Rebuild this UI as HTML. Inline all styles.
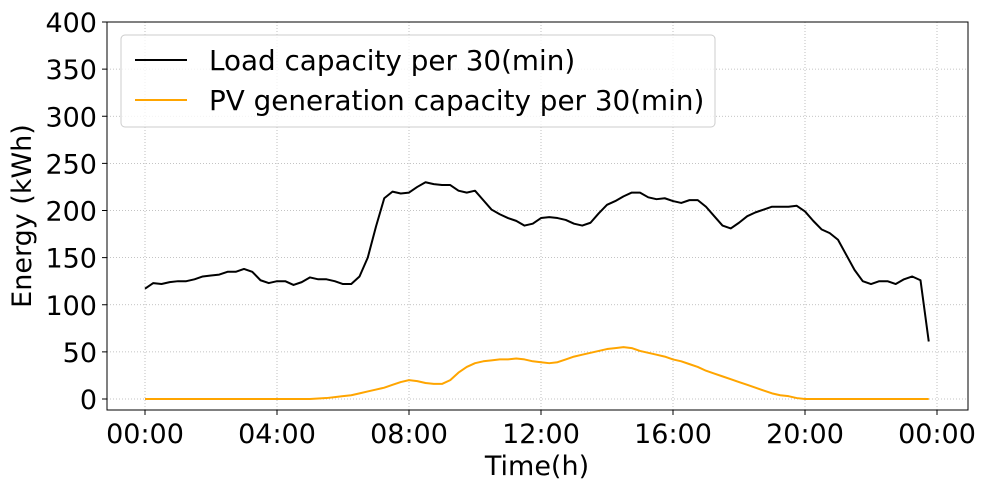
<!DOCTYPE html>
<html><head><meta charset="utf-8"><style>
body{margin:0;background:#fff}
svg text{font-family:"DejaVu Sans","Liberation Sans",sans-serif;fill:#000}
</style></head><body>
<svg id="chart" width="986" height="490" xmlns="http://www.w3.org/2000/svg">
<g id="grid"></g>
<g id="series"></g>
<rect x="107" y="22" width="861" height="388" fill="none" stroke="#000" stroke-width="1"/>
<g id="ticks"></g>
<text x="537" y="475" font-size="27" text-anchor="middle">Time(h)</text>
<text transform="translate(31,216) rotate(-90)" font-size="27" text-anchor="middle">Energy (kWh)</text>
<g>
<rect x="121" y="35" width="594" height="92" rx="4" fill="#fff" fill-opacity="0.8" stroke="#ccc"/>
<line x1="135" y1="60" x2="187" y2="60" stroke="#000" stroke-width="2"/>
<text x="209" y="70" font-size="27.8">Load capacity per 30(min)</text>
<line x1="135" y1="100" x2="187" y2="100" stroke="#ffa500" stroke-width="2"/>
<text x="209" y="110" font-size="27.8">PV generation capacity per 30(min)</text>
</g>
</svg>
<script>
const load=[117,123,122,124,125,125,127,130,131,132,135,135,138,135,126,123,125,125,121,124,129,127,127,125,122,122,130,150,183,213,220,218,219,225,230,228,227,227,221,219,221,211,201,196,192,189,184,186,192,193,192,190,186,184,187,197,206,210,215,219,219,214,212,213,210,208,211,211,204,194,184,181,187,194,198,201,204,204,204,205,199,189,180,176,169,153,137,125,122,125,125,122,127,130,126,61];
const pv=[0,0,0,0,0,0,0,0,0,0,0,0,0,0,0,0,0,0,0,0,0,0.5,1,2,3,4,6,8,10,12,15,18,20,19,17,16,16,20,28,34,38,40,41,42,42,43,42,40,39,38,39,42,45,47,49,51,53,54,55,54,51,49,47,45,42,40,37,34,30,27,24,21,18,15,12,9,6,4,3,1,0,0,0,0,0,0,0,0,0,0,0,0,0,0,0,0];
const xTickLabels=["00:00","04:00","08:00","12:00","16:00","20:00","00:00"];
const yTicks=[0,50,100,150,200,250,300,350,400];
const NS="http://www.w3.org/2000/svg";
const X=h=>145+h*33;
const Y=v=>399-v*0.9425;
const grid=document.getElementById('grid'),ticks=document.getElementById('ticks'),ser=document.getElementById('series');
function mk(tag,attrs,parent){const e=document.createElementNS(NS,tag);for(const k in attrs)e.setAttribute(k,attrs[k]);parent.appendChild(e);return e;}
xTickLabels.forEach((lab,i)=>{const x=X(i*4);
 const g=mk('line',{x1:x,x2:x,y1:22,y2:410,stroke:'#b0b0b0','stroke-width':0.8,'stroke-dasharray':'1,2'},grid);
 
 
 const t=mk('line',{x1:x,x2:x,y1:410,y2:415,stroke:'#000'},ticks);
 
 
 const tx=mk('text',{x:x,y:443,'font-size':27,'text-anchor':'middle'},ticks);tx.textContent=lab;
 
 
});
yTicks.forEach(v=>{const y=Y(v);
 const g=mk('line',{x1:107,x2:968,y1:y,y2:y,stroke:'#b0b0b0','stroke-width':0.8,'stroke-dasharray':'1,2'},grid);
 
 
 const t=mk('line',{x1:102,x2:107,y1:y,y2:y,stroke:'#000'},ticks);
 
 
 const tx=mk('text',{x:97,y:y+10,'font-size':27,'text-anchor':'end'},ticks);tx.textContent=v;
 
 
});
function line(arr,color,name){const d=arr.map((v,i)=>(i?'L':'M')+X(i*0.25).toFixed(2)+','+Y(v).toFixed(2)).join('');
 const p=mk('path',{d:d,fill:'none',stroke:color,'stroke-width':2,'stroke-linejoin':'round'},ser);
 
 }
line(pv,'#ffa500','pv-line');
line(load,'#000','load-line');
</script>
</body></html>
